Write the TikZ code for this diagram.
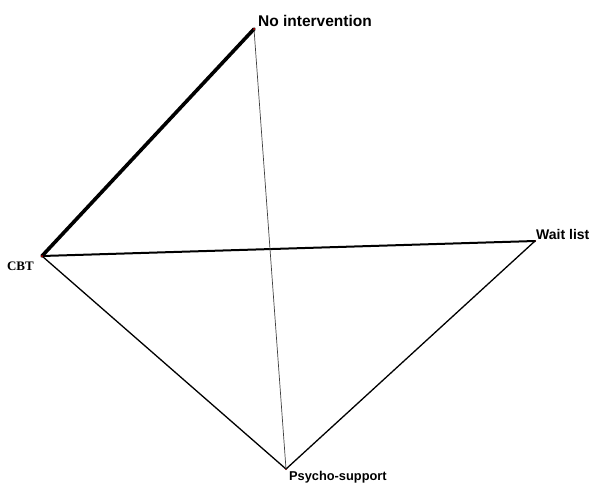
\documentclass[tikz,border=0pt]{standalone}
\usepackage{fontspec}
\setmainfont{Liberation Sans}
\newfontfamily\cbtfont{Liberation Serif}
\usetikzlibrary{positioning}
\tikzset{
    trt/.style={
        circle, fill=red!80!black, inner sep=0pt, minimum size=2pt
    },
    lab/.style={
        inner sep=1pt, font=\fontsize{14}{16}\selectfont\bfseries
    },
    cmp/.style={
        draw=black, line cap=round
    }
}
\begin{document}
\begin{tikzpicture}[x=1pt, y=-1pt]
        \useasboundingbox (0,0) rectangle (594,496);

        \node[trt] (NoInt)  at (254,29)  {};
        \node[trt] (CBT)    at (42,256)  {};
        \node[trt] (Wait)   at (535,241) {};
        \node[trt] (Psycho) at (286,469) {};

        \node[lab, anchor=south west, font=\fontsize{15.5}{17}\selectfont\bfseries] (NoIntLab) at ([xshift=3pt,yshift=1pt]NoInt.center) {No intervention};
        \node[lab, anchor=north east, font=\cbtfont\fontsize{13}{15}\selectfont\bfseries] (CBTLab) at ([xshift=-7pt,yshift=-5pt]CBT.center) {CBT};
        \node[lab, anchor=south west] (WaitLab) at ([xshift=0pt,yshift=0pt]Wait.center) {Wait list};
        \node[lab, anchor=north west, font=\fontsize{12.8}{15}\selectfont\bfseries] (PsychoLab) at ([xshift=2pt,yshift=-1pt]Psycho.center) {Psycho-support};

        % comparisons, width ~ amount of evidence
        \draw[cmp, line width=3.6pt] (NoInt.center) -- (CBT.center);
        \draw[cmp, line width=2pt] (CBT.center) -- (Wait.center);
        \draw[cmp, line width=1.3pt] (CBT.center) -- (Psycho.center);
        \draw[cmp, line width=1.3pt] (Psycho.center) -- (Wait.center);
        \draw[cmp, line width=0.7pt, draw=black!75] (NoInt.center) -- (Psycho.center);

        \node[trt] at (NoInt) {};
        \node[trt] at (CBT) {};
    \end{tikzpicture}
\end{document}
